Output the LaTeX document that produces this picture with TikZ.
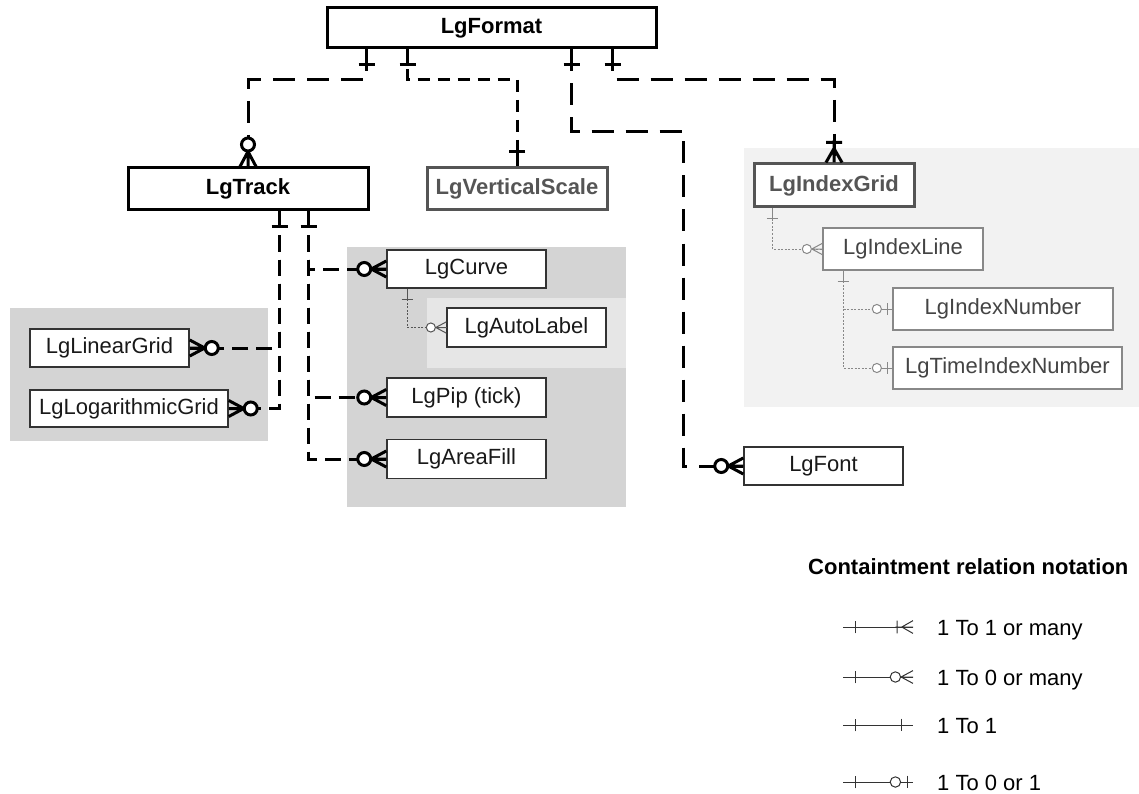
\documentclass[tikz,border=0pt]{standalone}
\usepackage{fontspec}
\setmainfont{Liberation Sans}
\usepackage{xcolor}
\usetikzlibrary{positioning}
\definecolor{grpdark}{HTML}{D4D4D4}
\definecolor{grplight}{HTML}{E6E6E6}
\definecolor{grpindex}{HTML}{F2F2F2}
\definecolor{entgray}{HTML}{555555}
\definecolor{subgray}{HTML}{888888}
\definecolor{subtext}{HTML}{444444}

\begin{document}
\begin{tikzpicture}[x=1pt, y=-1pt,
  every node/.style={font=\fontsize{22}{26}\selectfont, inner sep=0pt},
  mainbox/.style={draw, line width=3pt, fill=white,
                  font=\fontsize{22}{26}\selectfont\bfseries},
  greybox/.style={mainbox, draw=entgray, text=entgray},
  box/.style={draw=black!80, line width=1.5pt, fill=white, text=black!90},
  subbox/.style={draw=subgray, line width=1.5pt, fill=white, text=subtext},
  rel/.style={line width=3pt, dash pattern=on 22pt off 12pt},
  relshort/.style={line width=3pt, dash pattern=on 12pt off 8pt},
  relchild/.style={line width=3pt, dash pattern=on 16pt off 8pt},
  relthin/.style={line width=1pt, dash pattern=on 2pt off 1.5pt},
  thickmark/.style={line width=3pt},
  thinmark/.style={line width=1pt, scale=0.7},
  legmark/.style={line width=1pt, black!80, scale=0.8},
  pics/one/.style={code={\draw[solid] (-16,0) -- (0,0) (-15,-8) -- (-15,8);}},
  pics/zmany/.style={code={
      \draw[solid] (-15,0) -- (0,0) (-15,0) -- (0,-8) (-15,0) -- (0,8);
      \draw[solid, fill=white] (-22,0) circle[radius=6.5];}},
  pics/omany/.style={code={
      \draw[solid] (-22,0) -- (0,0) (-20,-8) -- (-20,8)
                   (-14,0) -- (0,-8) (-14,0) -- (0,8);}},
  pics/zone/.style={code={
      \draw[solid] (-16,0) -- (0,0) (-7,-8) -- (-7,8);
      \draw[solid, fill=white] (-22,0) circle[radius=6.5];}},
]
  \useasboundingbox (0,0) rectangle (1139,794);

  % group backgrounds
  \fill[grpdark] (10,308) rectangle (268,441);
  \fill[grpdark] (347,247) rectangle (626,507);
  \fill[grplight] (427,298) rectangle (626,368);
  \fill[grpindex] (744,148) rectangle (1139,407);

  % LgFormat and its children
  \node[mainbox, minimum width=329, minimum height=40] (format) at (491.5,28) {LgFormat};
  \node[mainbox, minimum width=240, minimum height=42] (track) at (248,189) {LgTrack};
  \node[greybox, minimum width=180, minimum height=42] (vscale) at (517,189) {LgVerticalScale};
  \node[greybox, minimum width=160, minimum height=43] (igrid) at (834,185.5) {LgIndexGrid};
  \node[box, minimum width=159, minimum height=38] (font) at (823.5,466) {LgFont};

  % index grid group
  \node[subbox, minimum width=160, minimum height=42] (iline) at (903,249) {LgIndexLine};
  \node[subbox, minimum width=220, minimum height=42] (inum) at (1003,309) {LgIndexNumber};
  \node[subbox, minimum width=229, minimum height=42] (tinum) at (1007.5,368) {LgTimeIndexNumber};

  % grids
  \node[box, minimum width=159, minimum height=38] (lingrid) at (109.5,348) {LgLinearGrid};
  \node[box, minimum width=198, minimum height=37] (loggrid) at (129,408.5) {LgLogarithmicGrid};

  % track items
  \node[box, minimum width=159, minimum height=38] (curve) at (466.5,269) {LgCurve};
  \node[box, minimum width=159, minimum height=39] (autolabel) at (526.5,327.5) {LgAutoLabel};
  \node[box, minimum width=159, minimum height=39] (pip) at (466.5,397.5) {LgPip (tick)};
  \node[box, minimum width=159, minimum height=39, below=21pt of pip] (areafill) {LgAreaFill};

  % Connections from LgFormat
  \draw[rel] ([xshift=41pt]format.south west) -- ++(0,30) -| (track.north);
  \draw[relshort] ([xshift=82pt]format.south west) -- ++(0,30) -| (vscale.north);
  \draw[rel] ([xshift=246pt]format.south west) -- ++(0,82) -- ++(112,0) |- (font.west);
  \draw[rel] ([xshift=287pt]format.south west) -- ++(0,30) -| (igrid.north);

  % Connections from LgTrack
  \draw[relchild] ([xshift=-90pt]track.south east) |- (lingrid.east);
  \draw[relchild] ([xshift=-90pt]track.south east) |- (loggrid.east);
  \draw[relchild] ([xshift=-61pt]track.south east) |- (curve.west);
  \draw[relchild] ([xshift=-61pt]track.south east) |- (pip.west);
  \draw[relchild] ([xshift=-61pt]track.south east) |- (areafill.west);

  % thin connections
  \draw[relthin, entgray] ([xshift=21pt]curve.south west) |- (autolabel.west);
  \draw[relthin, subgray] ([xshift=20pt]igrid.south west) |- (iline.west);
  \draw[relthin, subgray] ([xshift=21pt]iline.south west) |- (inum.west);
  \draw[relthin, subgray] ([xshift=21pt]iline.south west) |- (tinum.west);

  % end marks
  \foreach \dx in {41,82,246,287}
    \pic[thickmark, rotate=90] at ([xshift=\dx pt]format.south west) {one};
  \pic[thickmark, rotate=-90] at (track.north) {zmany};
  \pic[thickmark, rotate=-90] at (vscale.north) {one};
  \pic[thickmark, rotate=-90] at (igrid.north) {omany};
  \pic[thickmark] at (font.west) {zmany};
  \foreach \dx in {-90,-61}
    \pic[thickmark, rotate=90] at ([xshift=\dx pt]track.south east) {one};
  \pic[thickmark, rotate=180] at (lingrid.east) {zmany};
  \pic[thickmark, rotate=180] at (loggrid.east) {zmany};
  \foreach \n in {curve,pip,areafill}
    \pic[thickmark] at (\n.west) {zmany};

  \pic[thinmark, entgray, rotate=90] at ([xshift=21pt]curve.south west) {one};
  \pic[thinmark, entgray] at (autolabel.west) {zmany};
  \pic[thinmark, subgray, rotate=90] at ([xshift=20pt]igrid.south west) {one};
  \pic[thinmark, subgray] at (iline.west) {zmany};
  \pic[thinmark, subgray, rotate=90] at ([xshift=21pt]iline.south west) {one};
  \pic[thinmark, subgray] at (inum.west) {zone};
  \pic[thinmark, subgray] at (tinum.west) {zone};

  % Legend
  \node[anchor=west, font=\fontsize{22}{26}\selectfont\bfseries] (legtitle) at (808,567)
       {Containtment relation notation};
  \node[anchor=base west] (leg1) at (937,635) {1 To 1 or many};
  \node[anchor=base west] (leg2) at (937,685) {1 To 0 or many};
  \node[anchor=base west] (leg3) at (937,733) {1 To 1};
  \node[anchor=base west] (leg4) at (937,790) {1 To 0 or 1};
  \foreach \l/\m in {leg1/omany, leg2/zmany, leg3/one, leg4/zone} {
    \draw[line width=1pt, black!80] ([xshift=-94pt, yshift=8pt]\l.base west)
         -- ([xshift=-24pt, yshift=8pt]\l.base west);
    \pic[legmark, rotate=180] at ([xshift=-94pt, yshift=8pt]\l.base west) {one};
    \pic[legmark] at ([xshift=-24pt, yshift=8pt]\l.base west) {\m};
  }
\end{tikzpicture}
\end{document}
